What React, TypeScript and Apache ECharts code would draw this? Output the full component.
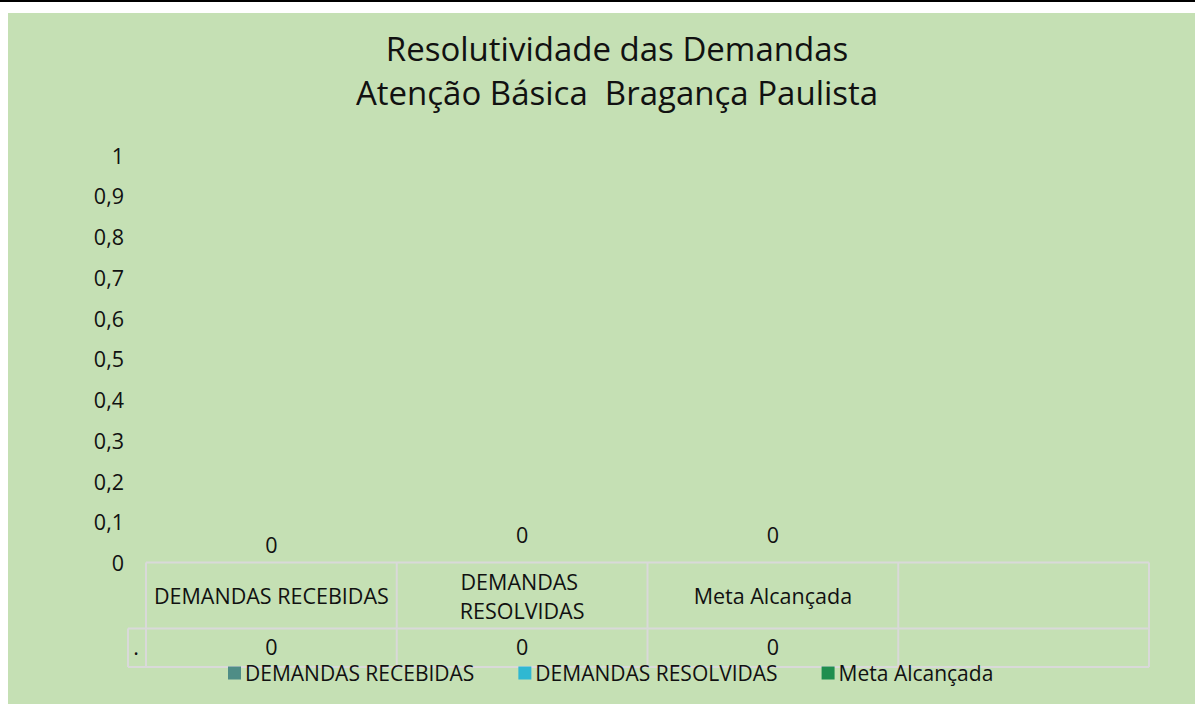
import React, { useEffect, useRef } from "react";
import * as echarts from "echarts";

const titleLines = ["Resolutividade das Demandas", "Atenção Básica  Bragança Paulista"];
const categories = ["DEMANDAS RECEBIDAS", "DEMANDAS RESOLVIDAS", "Meta Alcançada", ""];
const seriesNames = ["DEMANDAS RECEBIDAS", "DEMANDAS RESOLVIDAS", "Meta Alcançada"];
const seriesValues = [0, 0, 0];
const seriesColors = ["#4F8D86", "#2FB8D2", "#1F8E4F"];
const tableRowName = ".";

const FONT = '"Open Sans", sans-serif';
const TEXT = "#111111";
const LINE = "#D9D9D9";
const FS = 21.5;

export default function App() {
  const ref = useRef<HTMLDivElement>(null);
  useEffect(() => {
    if (!ref.current) return;
    const chart = echarts.init(ref.current, null, { renderer: "svg" });
    const W = 1187;
    const H = 691;
    const gl = 138, gr = 46, gt = 142, gb = 141.5;
    const x0 = gl, x1 = W - gr;
    const yAxisY = H - gb;
    const rowY = 615.5;
    const botY = 654;
    const n = categories.length;
    const colW = (x1 - x0) / n;
    const lines: any[] = [];
    lines.push({ type: "line", shape: { x1: x0, y1: yAxisY, x2: x1, y2: yAxisY }, style: { stroke: LINE, lineWidth: 2 } });
    lines.push({ type: "line", shape: { x1: 120, y1: rowY, x2: x1, y2: rowY }, style: { stroke: LINE, lineWidth: 2 } });
    lines.push({ type: "line", shape: { x1: 120, y1: botY, x2: x1, y2: botY }, style: { stroke: LINE, lineWidth: 2 } });
    lines.push({ type: "line", shape: { x1: 120, y1: rowY, x2: 120, y2: botY }, style: { stroke: LINE, lineWidth: 2 } });
    for (let i = 0; i <= n; i++) {
      const x = x0 + colW * i;
      lines.push({ type: "line", shape: { x1: x, y1: yAxisY, x2: x, y2: botY }, style: { stroke: LINE, lineWidth: 2 } });
    }
    const labelDist = [7, 17, 17];
    chart.setOption({
      animation: false,
      backgroundColor: "#C5E0B4",
      textStyle: { fontFamily: FONT },
      grid: { left: gl, right: gr, top: gt, bottom: gb, containLabel: false },
      legend: {
        left: 220,
        top: 647,
        padding: 0,
        itemWidth: 13,
        itemHeight: 13,
        itemGap: 44,
        icon: "rect",
        textStyle: { fontFamily: FONT, fontSize: 21, color: TEXT, lineHeight: 26, padding: [0, 0, 0, -1] },
        data: seriesNames,
      },
      xAxis: [
        {
          type: "category",
          data: categories,
          axisLine: { show: false },
          axisTick: { show: false },
          axisLabel: {
            interval: 0,
            margin: 33,
            verticalAlign: "middle",
            fontFamily: FONT,
            fontSize: FS,
            color: TEXT,
            width: 240,
            overflow: "break",
            lineHeight: 29,
          },
        },
        {
          type: "category",
          data: categories,
          position: "bottom",
          axisLine: { show: false },
          axisTick: { show: false },
          axisLabel: {
            interval: 0,
            margin: 84,
            verticalAlign: "middle",
            fontFamily: FONT,
            fontSize: FS,
            color: TEXT,
            formatter: (_v: string, idx: number) => (idx < seriesValues.length ? String(seriesValues[idx]) : ""),
          },
        },
      ],
      yAxis: {
        type: "value",
        min: 0,
        max: 1,
        interval: 0.1,
        axisLine: { show: false },
        axisTick: { show: false },
        splitLine: { show: false },
        axisLabel: {
          margin: 22,
          fontFamily: FONT,
          fontSize: FS,
          color: TEXT,
          formatter: (v: number) => {
            const r = Math.round(v * 10) / 10;
            return String(r).replace(".", ",");
          },
        },
      },
      series: seriesNames.map((name, i) => ({
        name,
        type: "bar",
        stack: "all",
        barWidth: "40%",
        itemStyle: { color: seriesColors[i] },
        data: categories.map((_c, j) => (j === i ? seriesValues[i] : null)),
        label: {
          show: true,
          position: "top",
          distance: labelDist[i],
          fontFamily: FONT,
          fontSize: FS,
          color: TEXT,
        },
      })),
      graphic: [
        ...lines,
        {
          type: "text",
          x: 609,
          y: 35.7,
          style: { text: titleLines[0], font: `33px ${FONT}`, fill: TEXT, textAlign: "center", textVerticalAlign: "middle" },
        },
        {
          type: "text",
          x: 609,
          y: 79.7,
          style: { text: titleLines[1], font: `33px ${FONT}`, fill: TEXT, textAlign: "center", textVerticalAlign: "middle" },
        },
        {
          type: "text",
          x: 128,
          y: 633.7,
          style: { text: tableRowName, font: `${FS}px ${FONT}`, fill: TEXT, textAlign: "center", textVerticalAlign: "middle" },
        },
      ],
    });
    return () => chart.dispose();
  }, []);
  return (
    <div style={{ position: "absolute", left: 0, top: 0, width: 1195, height: 704, background: "#fff", overflow: "hidden" }}>
      <div style={{ position: "absolute", left: 0, top: 0, width: 1195, height: 2, background: "#000" }} />
      <div ref={ref} style={{ position: "absolute", left: 8, top: 13, width: 1187, height: 691 }} />
    </div>
  );
}
